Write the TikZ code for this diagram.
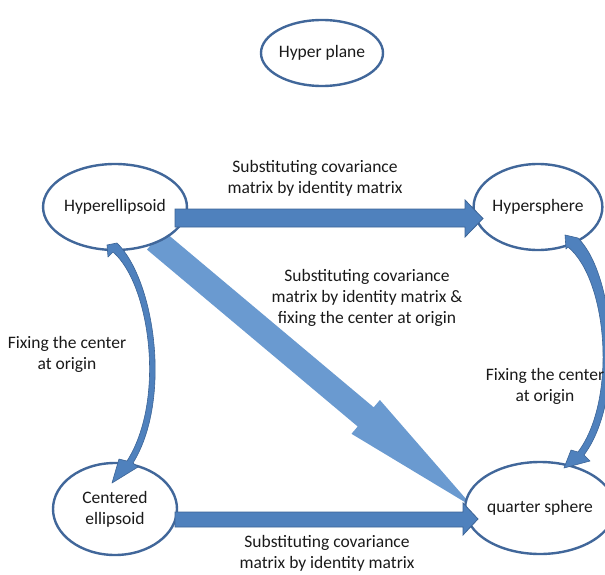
\documentclass[tikz,border=0pt]{standalone}
\usepackage{fontspec}
\setmainfont{Carlito}
\usetikzlibrary{shapes.geometric}
\definecolor{edgeblue}{HTML}{41679A}
\definecolor{fillblue}{HTML}{4F81BD}
\definecolor{lineblue}{HTML}{3C6496}
\definecolor{lightblue}{HTML}{6A9AD0}
\definecolor{txt}{HTML}{1A1A1A}
\tikzset{
  oval/.style={ellipse, draw=edgeblue, line width=2.4pt, fill=white, inner sep=0pt, text=txt, font=\fontsize{17.5}{21}\selectfont, align=center},
  blockarrow/.style={fill=fillblue, draw=lineblue, line width=0.8pt, line join=miter},
  diagarrow/.style={fill=lightblue, draw=none},
  curvearrow/.style={fill=fillblue, draw=lineblue, line width=0.6pt, line join=round},
  lbl/.style={text=txt, font=\fontsize{17.5}{21}\selectfont, align=center, inner sep=0pt}
}
\begin{document}
\begin{tikzpicture}[x=1pt,y=-1pt]
\useasboundingbox (0,0) rectangle (605,575);
\clip (0,0) rectangle (605,575);
% diagonal arrow (under ellipses)
\coordinate (d1) at (163.0,230.4);
\coordinate (d2) at (373.7,407.3);
\coordinate (d3) at (379.9,400.0);
\coordinate (dt) at (473,507);
\coordinate (d4) at (351.5,433.8);
\coordinate (d5) at (357.7,426.5);
\coordinate (d6) at (147.0,249.6);
\fill[diagarrow] (d1) -- (d2) -- (d3) -- (dt) -- (d4) -- (d5) -- (d6) -- cycle;
% ellipses
\node[oval, minimum width=120pt, minimum height=66pt] (plane) at (322,53) {Hyper plane};
\node[oval, minimum width=124pt, minimum height=86pt] (hell) at (115,207) {Hyperellipsoid};
\node[oval, minimum width=126pt, minimum height=86pt] (hsph) at (538,207) {Hypersphere};
\node[oval, minimum width=124pt, minimum height=92pt] (cell) at (115,509) {Centered\\ellipsoid};
\node[oval, minimum width=130pt, minimum height=92pt] (qsph) at (540,508) {quarter sphere};
% top block arrow
\draw[blockarrow] (175,209) -- (465,209) -- (465,200) -- (483,218.5) -- (465,237) -- (465,227) -- (175,227) -- cycle;
% bottom block arrow
\draw[blockarrow] (175,512) -- (463,512) -- (463,503) -- (478,519) -- (463,535) -- (463,527) -- (175,527) -- cycle;
% left curved arrow
\draw[curvearrow] (107,245) -- (117,243)
  .. controls (155,280) and (172,400) .. (133,463)
  -- (138,467) -- (112,483) -- (119,459) -- (127,461)
  .. controls (166,400) and (150,284) .. (113,252)
  -- (108,257) -- cycle;
% right curved arrow
\draw[curvearrow] (565,235) -- (578,238)
  .. controls (615,275) and (625,400) .. (584,455)
  -- (590,461) -- (564,468) -- (571,450) -- (578,452)
  .. controls (617,400) and (608,280) .. (568,247)
  -- (566,249) -- cycle;
% labels
\node[lbl] (ltop) at (315,178) {Substituting covariance\\matrix by identity matrix};
\node[lbl] (ldiag) at (367,298) {Substituting covariance\\matrix by identity matrix \&\\fixing the center at origin};
\node[lbl] (lleft) at (67,354) {Fixing the center\\at origin};
\node[lbl] (lright) at (545,386) {Fixing the center\\at origin};
\node[lbl] (lbot) at (327,553) {Substituting covariance\\matrix by identity matrix};
\end{tikzpicture}
\end{document}
